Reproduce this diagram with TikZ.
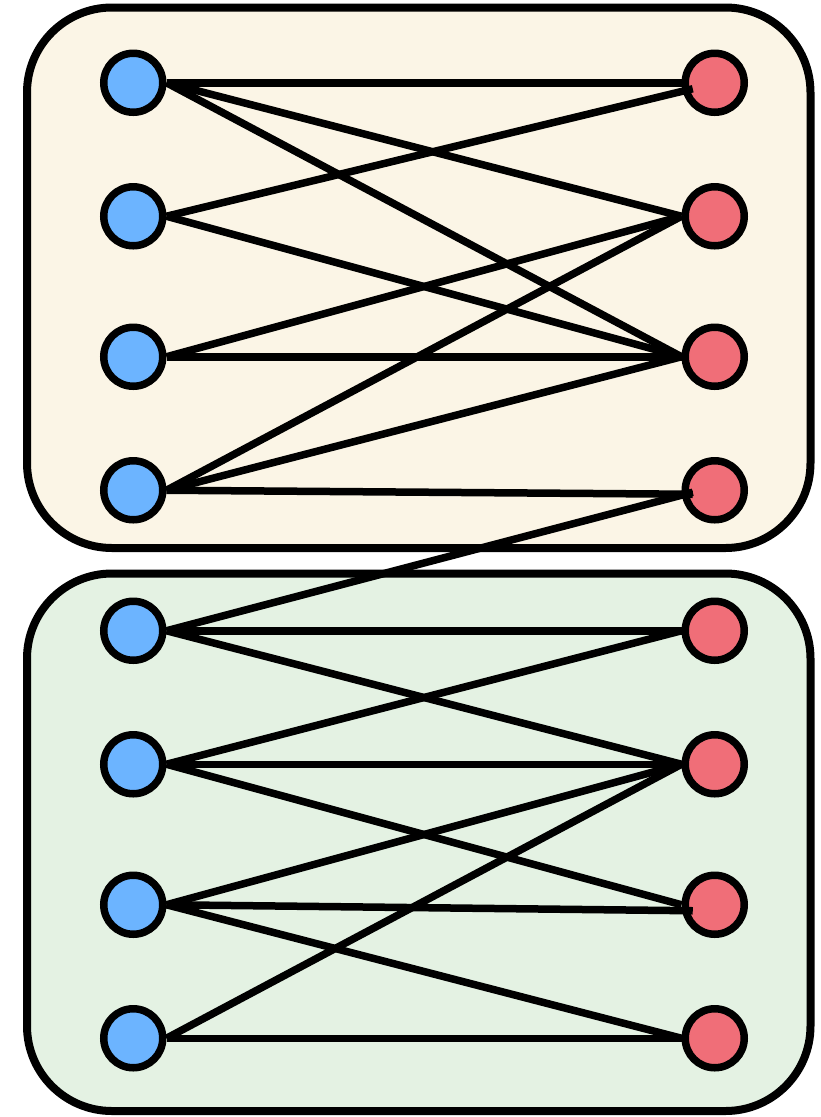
\documentclass[tikz,border=0pt]{standalone}
\usetikzlibrary{matrix}

\definecolor{leftblue}{HTML}{6CB4FF}
\definecolor{rightred}{HTML}{F06E78}
\definecolor{topfill}{HTML}{FBF5E6}
\definecolor{botfill}{HTML}{E4F2E3}

\tikzset{
  vertex/.style={circle, draw, line width=7.5pt, minimum size=59pt, inner sep=0pt},
  group box/.style={draw, line width=8pt, rounded corners=85pt},
  edge/.style={line width=7.5pt}
}

\begin{document}
\begin{tikzpicture}[x=1pt, y=-1pt]
\useasboundingbox (0,0) rectangle (821,1117);

\draw[group box, fill=topfill] (27,7.5) rectangle (810.5,548);
\draw[group box, fill=botfill] (27,573.5) rectangle (810.5,1111);

\matrix (g) [matrix of nodes, nodes in empty cells, inner sep=0pt,
  column sep=515pt, row sep=67pt, ampersand replacement=\&,
  nodes={vertex},
  column 1/.style={nodes={fill=leftblue}},
  column 2/.style={nodes={fill=rightred}}] at (424,560.5) {
 \& \\
 \& \\[7pt]
 \& \\
 \& \\[7pt]
 \& \\
 \& \\[7pt]
 \& \\
 \& \\
};

\foreach \i/\j in {1/1, 1/2, 1/3,
                   2/3,
                   3/2, 3/3,
                   4/2, 4/3,
                   5/5, 5/6,
                   6/5, 6/6, 6/7,
                   7/6, 7/8,
                   8/6, 8/8%
            }
    \draw[edge] (g-\i-1.east) -- (g-\j-2.west);

% these few stop a bit inside the red node
\foreach \i/\j/\dy in {2/1/6, 4/4/4, 5/4/2, 7/7/6}
    \draw[edge] (g-\i-1.east) -- ([shift={(-22,\dy)}]g-\j-2.center);

\end{tikzpicture}
\end{document}
